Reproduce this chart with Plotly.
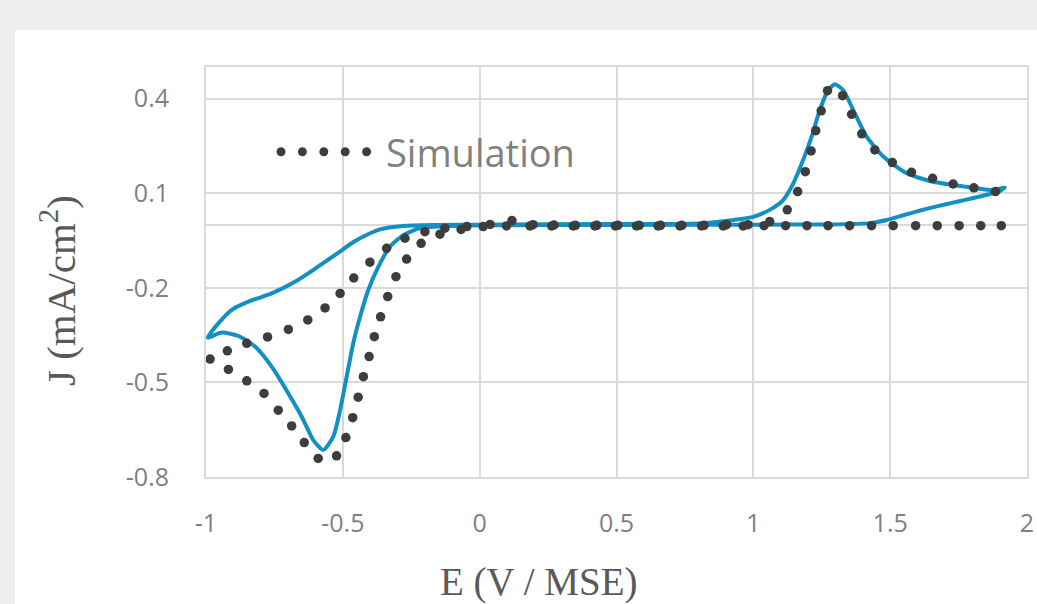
import plotly.graph_objects as go

# ---- Experimental CV (solid blue line) ----
exp_E = [-0.994, -0.955, -0.906, -0.845, -0.760, -0.675, -0.602, -0.555, -0.520, -0.468, -0.437,
         -0.364, -0.279, -0.157, 0.000, 0.500, 0.805, 0.927, 1.000, 1.060, 1.109, 1.146, 1.182,
         1.213, 1.243, 1.274, 1.298, 1.328, 1.365, 1.414, 1.475, 1.560, 1.657, 1.779, 1.877, 1.919,
         1.900, 1.850, 1.791, 1.730, 1.670, 1.610, 1.548, 1.487, 1.426, 1.292, 1.000, 0.500, 0.000,
         -0.096, -0.218, -0.279, -0.328, -0.370, -0.407, -0.437, -0.462, -0.486, -0.510, -0.535,
         -0.571, -0.608, -0.650, -0.699, -0.760, -0.820, -0.881, -0.942, -0.994]
exp_J = [-0.358, -0.313, -0.270, -0.244, -0.218, -0.181, -0.140, -0.112, -0.091, -0.059, -0.043,
         -0.015, -0.004, -0.001, 0.000, 0.002, 0.004, 0.015, 0.025, 0.047, 0.078, 0.131, 0.205,
         0.279, 0.364, 0.427, 0.445, 0.427, 0.364, 0.279, 0.216, 0.163, 0.136, 0.120, 0.110, 0.118,
         0.106, 0.094, 0.082, 0.070, 0.058, 0.045, 0.030, 0.015, 0.005, 0.001, 0.000, -0.001, -0.002,
         -0.004, -0.011, -0.033, -0.070, -0.133, -0.207, -0.292, -0.376, -0.482, -0.588, -0.672,
         -0.714, -0.683, -0.609, -0.535, -0.450, -0.387, -0.353, -0.342, -0.358]

# ---- Simulation (round dots) ----
sim_E = [0.013, -0.068, -0.145, -0.214, -0.267, -0.306, -0.336, -0.362, -0.385, -0.404, -0.425,
         -0.444, -0.464, -0.489, -0.523, -0.590, -0.641, -0.687, -0.736, -0.788, -0.851, -0.918,
         -0.985,
         -0.922, -0.851, -0.775, -0.699, -0.628, -0.565, -0.510, -0.460, -0.401, -0.340, -0.273,
         -0.200, -0.127, -0.047, 0.038,
         0.118, 0.195, 0.272, 0.350, 0.428, 0.505, 0.583, 0.661, 0.739, 0.820, 0.902, 0.981, 1.060,
         1.124, 1.162, 1.190, 1.211, 1.228, 1.248, 1.271, 1.326, 1.359, 1.396, 1.444, 1.508, 1.578,
         1.655, 1.730, 1.806, 1.885,
         1.906, 1.831, 1.752, 1.672, 1.593, 1.511, 1.432, 1.352, 1.273, 1.196, 1.118, 1.039, 0.963,
         0.890, 0.811, 0.732, 0.652, 0.573, 0.496, 0.421, 0.342, 0.263, 0.184, 0.098]
sim_J = [-0.006, -0.015, -0.030, -0.059, -0.109, -0.165, -0.228, -0.292, -0.355, -0.418, -0.482,
         -0.547, -0.612, -0.675, -0.733, -0.741, -0.691, -0.638, -0.588, -0.535, -0.495, -0.459,
         -0.426,
         -0.400, -0.376, -0.356, -0.332, -0.302, -0.264, -0.218, -0.169, -0.119, -0.075, -0.043,
         -0.022, -0.011, -0.006, 0.001,
         0.013, 0.000, -0.001, -0.002, -0.002, -0.002, -0.002, -0.002, -0.002, -0.002, 0.000, 0.000, 0.010,
         0.047, 0.105, 0.168, 0.234, 0.298, 0.361, 0.425, 0.409, 0.350, 0.288, 0.237, 0.197, 0.166,
         0.147, 0.129, 0.117, 0.105,
         -0.003, -0.003, -0.003, -0.003, -0.003, -0.003, -0.003, -0.003, -0.003, -0.003, -0.003,
         -0.003, -0.004, -0.004, -0.004, -0.004, -0.004, -0.004, -0.004, -0.004, -0.004, -0.004,
         -0.004, -0.004]

x_ticks = [-1, -0.5, 0, 0.5, 1, 1.5, 2]
x_ticktext = ["-1", "-0.5", "0", "0.5", "1", "1.5", "2"]
y_ticks = [-0.8, -0.5, -0.2, 0.1, 0.4]
y_ticktext = ["-0.8", "-0.5", "-0.2", "0.1", "0.4"]

BLUE = "#138fc3"
DOT = "#3d3d3d"
GRID = "#dadada"
TICK = "#808080"
TITLE = "#595959"

fig = go.Figure()
fig.add_trace(go.Scatter(x=exp_E, y=exp_J, mode="lines", name="Experiment",
                         line=dict(color=BLUE, width=4, shape="spline", smoothing=0.6),
                         showlegend=False, hoverinfo="skip"))
fig.add_trace(go.Scatter(x=sim_E, y=sim_J, mode="markers", name="Simulation",
                         marker=dict(color=DOT, size=9.5, line=dict(width=0)),
                         showlegend=False, hoverinfo="skip"))
# legend entry in Excel round-dot style
fig.add_trace(go.Scatter(x=[None], y=[None], mode="lines", name="Simulation",
                         line=dict(color=DOT, width=9, dash="0px,21.4px"), showlegend=True))

W, H = 1037, 604
L, R, T, B = 206, 10, 67, 127
pw, ph = W - L - R, H - T - B

fig.update_layout(
    width=W, height=H,
    margin=dict(l=L, r=R, t=T, b=B, autoexpand=False),
    paper_bgcolor="#efefef",
    plot_bgcolor="white",
    showlegend=True,
    legend=dict(x=(276 - L) / pw, y=(H - B - 152) / ph, xanchor="left", yanchor="middle",
                bgcolor="rgba(0,0,0,0)", itemwidth=100,
                font=dict(family="Open Sans", size=38, color=TICK)),
    shapes=[dict(type="rect", xref="paper", yref="paper",
                 x0=(15 - L) / pw, x1=(W - L) / pw, y0=-(B) / ph, y1=1 + (T - 30) / ph,
                 fillcolor="white", line=dict(width=0), layer="below")],
    annotations=[
        dict(text="E (V / MSE)", xref="paper", yref="paper",
             x=(539 - L) / pw, y=(H - B - 582) / ph, showarrow=False,
             xanchor="center", yanchor="middle",
             font=dict(family="Liberation Serif", size=39, color=TITLE)),
        dict(text="J (mA/cm<sup>2</sup>)", xref="paper", yref="paper",
             x=(58 - L) / pw, y=(H - B - 291) / ph, showarrow=False, textangle=-90,
             xanchor="center", yanchor="middle",
             font=dict(family="Liberation Serif", size=41, color=TITLE)),
    ],
)
fig.update_xaxes(range=[-1, 2], tickvals=x_ticks, ticktext=x_ticktext, automargin=False,
                 showgrid=True, gridcolor=GRID, gridwidth=2,
                 zeroline=False, showline=True, mirror=True, linecolor=GRID, linewidth=2,
                 ticks="", ticklabelstandoff=23,
                 tickfont=dict(family="Open Sans", size=25, color=TICK))
fig.update_yaxes(range=[-0.8, 0.5], tickvals=y_ticks, ticktext=y_ticktext, automargin=False,
                 showgrid=True, gridcolor=GRID, gridwidth=2,
                 zeroline=True, zerolinecolor=GRID, zerolinewidth=2,
                 showline=True, mirror=True, linecolor=GRID, linewidth=2,
                 ticks="", ticklabelstandoff=30,
                 tickfont=dict(family="Open Sans", size=25, color=TICK))

post = """
var st = document.createElement('style');
st.innerHTML = 'html, body { margin: 0 !important; padding: 0 !important; overflow: hidden; } ' +
               '.legend .js-line, .legend .legendlines path { stroke-linecap: round !important; }';
document.head.appendChild(st);
"""
fig.write_html("out.html", post_script=post, config={"displayModeBar": False})
